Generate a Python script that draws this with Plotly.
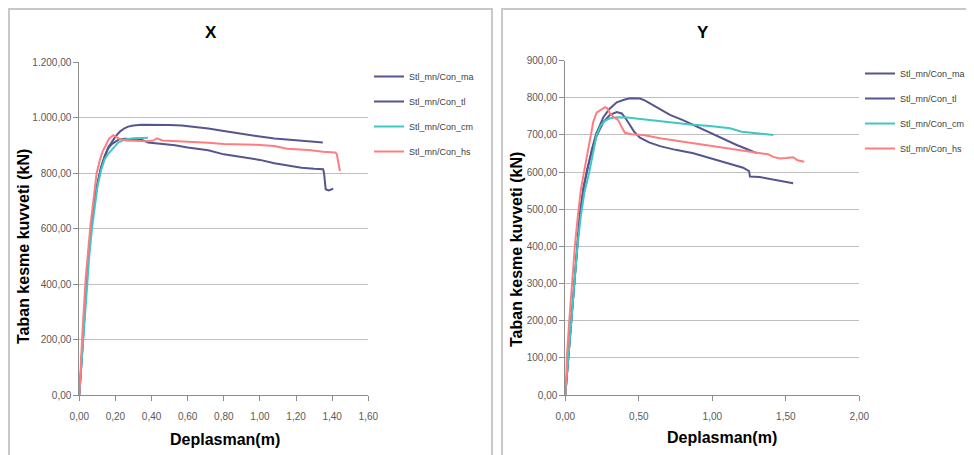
import plotly.graph_objects as go

# ---------------- data ----------------
series_names = ["Stl_mn/Con_ma", "Stl_mn/Con_tl", "Stl_mn/Con_cm", "Stl_mn/Con_hs"]

# X direction
x_ma_d = [0, 0.01, 0.02, 0.037, 0.05, 0.065, 0.08, 0.10, 0.12, 0.14, 0.16, 0.18, 0.20, 0.225, 0.25, 0.27, 0.30, 0.345, 0.40, 0.50, 0.567, 0.65, 0.714, 0.80, 0.90, 1.00, 1.08, 1.15, 1.23, 1.30, 1.348]
x_ma_f = [0, 100, 200, 400, 500, 600, 680, 760, 820, 860, 893, 912, 932, 950, 962, 968, 972, 975, 975, 974, 972, 966, 961, 952, 941, 932, 925, 921, 915, 913, 911]

x_tl_d = [0, 0.01, 0.02, 0.037, 0.05, 0.065, 0.08, 0.10, 0.12, 0.14, 0.16, 0.18, 0.20, 0.22, 0.25, 0.30, 0.345, 0.38, 0.45, 0.53, 0.60, 0.714, 0.80, 0.90, 1.00, 1.08, 1.15, 1.23, 1.30, 1.35, 1.355, 1.364, 1.38, 1.406]
x_tl_f = [0, 100, 200, 400, 500, 600, 680, 760, 820, 860, 890, 905, 915, 922, 924, 923, 921, 911, 906, 901, 893, 883, 868, 858, 848, 836, 828, 820, 816, 814, 800, 742, 738, 744]

x_cm_d = [0, 0.01, 0.02, 0.04, 0.055, 0.07, 0.085, 0.10, 0.12, 0.14, 0.16, 0.18, 0.194, 0.215, 0.253, 0.30, 0.345, 0.38]
x_cm_f = [0, 90, 190, 390, 500, 600, 680, 750, 810, 850, 870, 884, 895, 910, 922, 926, 927, 928]

x_hs_d = [0, 0.008, 0.017, 0.035, 0.05, 0.063, 0.078, 0.096, 0.115, 0.13, 0.146, 0.165, 0.188, 0.205, 0.225, 0.26, 0.30, 0.37, 0.41, 0.43, 0.46, 0.53, 0.62, 0.714, 0.80, 0.90, 1.00, 1.08, 1.15, 1.27, 1.35, 1.416, 1.425, 1.443]
x_hs_f = [0, 110, 220, 420, 540, 620, 700, 800, 850, 880, 900, 925, 937, 930, 923, 918, 917, 915, 918, 926, 918, 916, 914, 910, 905, 904, 902, 898, 888, 884, 877, 875, 870, 808]

# Y direction
y_ma_d = [0, 0.02, 0.037, 0.057, 0.077, 0.10, 0.125, 0.15, 0.18, 0.21, 0.259, 0.30, 0.35, 0.40, 0.44, 0.508, 0.54, 0.576, 0.64, 0.712, 0.80, 0.871, 0.95, 1.03, 1.10, 1.166, 1.23, 1.302]
y_ma_f = [0, 100, 200, 300, 400, 490, 560, 610, 660, 703, 748, 770, 788, 795, 799, 798, 793, 785, 770, 754, 740, 727, 712, 697, 685, 673, 663, 651]

y_tl_d = [0, 0.02, 0.037, 0.057, 0.077, 0.10, 0.125, 0.15, 0.18, 0.21, 0.259, 0.304, 0.35, 0.384, 0.41, 0.44, 0.47, 0.508, 0.57, 0.644, 0.75, 0.871, 0.95, 1.052, 1.13, 1.21, 1.25, 1.256, 1.32, 1.415, 1.48, 1.55]
y_tl_f = [0, 100, 200, 300, 400, 490, 560, 610, 655, 695, 735, 754, 762, 758, 745, 725, 708, 693, 680, 670, 660, 651, 642, 632, 622, 612, 603, 588, 587, 580, 577, 570]

y_cm_d = [0, 0.02, 0.04, 0.06, 0.08, 0.105, 0.13, 0.163, 0.19, 0.213, 0.24, 0.27, 0.304, 0.35, 0.42, 0.53, 0.62, 0.712, 0.85, 0.984, 1.05, 1.12, 1.20, 1.30, 1.415]
y_cm_f = [0, 95, 195, 295, 390, 480, 545, 600, 660, 700, 725, 738, 745, 748, 747, 742, 738, 733, 728, 724, 722, 718, 709, 705, 700]

y_hs_d = [0, 0.01, 0.027, 0.045, 0.065, 0.085, 0.105, 0.127, 0.146, 0.17, 0.19, 0.213, 0.236, 0.27, 0.285, 0.304, 0.33, 0.36, 0.385, 0.406, 0.45, 0.53, 0.644, 0.75, 0.871, 1.00, 1.10, 1.20, 1.32, 1.38, 1.415, 1.46, 1.50, 1.55, 1.58, 1.626]
y_hs_f = [0, 100, 200, 300, 400, 480, 550, 600, 640, 700, 735, 760, 767, 775, 772, 758, 748, 740, 720, 706, 702, 700, 691, 685, 677, 670, 664, 658, 652, 648, 641, 637, 638, 640, 632, 628]

x_panel = [(x_ma_d, x_ma_f), (x_tl_d, x_tl_f), (x_cm_d, x_cm_f), (x_hs_d, x_hs_f)]
y_panel = [(y_ma_d, y_ma_f), (y_tl_d, y_tl_f), (y_cm_d, y_cm_f), (y_hs_d, y_hs_f)]

colors = ["#55558F", "#55558F", "#3EC8C3", "#FF7C80"]

# page is 974x455; the html body adds an 8px margin, so the figure is offset
OFF = 8
W, H = 974 - OFF, 455 - OFF
def px(v):
    return (v - OFF) / W
def py(v):
    return (H - (v - OFF)) / H

FONT = "Liberation Sans, Arial"

fig = go.Figure()
for i, (d, f) in enumerate(x_panel):
    fig.add_trace(go.Scatter(x=d, y=f, mode="lines", name=series_names[i],
                             line=dict(color=colors[i], width=2),
                             xaxis="x", yaxis="y", legend="legend",
                             legendgroup="a%d" % i))
for i, (d, f) in enumerate(y_panel):
    fig.add_trace(go.Scatter(x=d, y=f, mode="lines", name=series_names[i],
                             line=dict(color=colors[i], width=2),
                             xaxis="x2", yaxis="y2", legend="legend2",
                             legendgroup="b%d" % i))

tickfont = dict(family=FONT, size=10, color="#595959")
common_x = dict(showgrid=False, zeroline=False, showline=True, linecolor="#8C8C8C",
                linewidth=1, ticks="outside", ticklen=5, tickcolor="#8C8C8C",
                tickformat=".2f", tickfont=tickfont, ticklabelstandoff=7, automargin=False)
common_y = dict(showgrid=True, gridcolor="#BFBFBF", gridwidth=1, zeroline=False,
                showline=True, linecolor="#8C8C8C", linewidth=1, ticks="outside",
                ticklen=5, tickcolor="#8C8C8C", tickformat=",.2f", tickfont=tickfont,
                automargin=False)

legend_common = dict(font=dict(family=FONT, size=9, color="#404040"),
                     bgcolor="rgba(0,0,0,0)", traceorder="grouped",
                     tracegroupgap=6, xanchor="left", yanchor="top")

fig.update_layout(
    width=W, height=H,
    margin=dict(l=0, r=0, t=0, b=0, autoexpand=False),
    paper_bgcolor="white", plot_bgcolor="white",
    separators=",.",
    xaxis=dict(domain=[px(79.3), px(368.3)], range=[0, 1.6], dtick=0.2, anchor="y", **common_x),
    yaxis=dict(domain=[py(395), py(62.3)], range=[0, 1200], dtick=200, anchor="x", **common_y),
    xaxis2=dict(domain=[px(565.3), px(859.3)], range=[0, 2.0], dtick=0.5, anchor="y2", **common_x),
    yaxis2=dict(domain=[py(395), py(60.7)], range=[0, 900], dtick=100, anchor="x2", **common_y),
    legend=dict(x=px(369), y=py(62), **legend_common),
    legend2=dict(x=px(860), y=py(59), **legend_common),
    showlegend=True,
)

annots = [
    dict(text="<b>X</b>", x=px(211), y=py(33), font=dict(family=FONT, size=17, color="black")),
    dict(text="<b>Y</b>", x=px(703), y=py(32), font=dict(family=FONT, size=17, color="black")),
    dict(text="<b>Taban kesme kuvveti (kN)</b>", x=px(23), y=py(247), textangle=-90,
         font=dict(family=FONT, size=16, color="black")),
    dict(text="<b>Taban kesme kuvveti (kN)</b>", x=px(517), y=py(250), textangle=-90,
         font=dict(family=FONT, size=16, color="black")),
    dict(text="<b>Deplasman(m)</b>", x=px(225), y=py(439), font=dict(family=FONT, size=16, color="black")),
    dict(text="<b>Deplasman(m)</b>", x=px(722), y=py(437), font=dict(family=FONT, size=16, color="black")),
]
for a in annots:
    fig.add_annotation(xref="paper", yref="paper", showarrow=False,
                       xanchor="center", yanchor="middle", **a)

# chart frames
fig.add_shape(type="rect", xref="paper", yref="paper",
              x0=px(9), x1=px(492), y0=-0.05, y1=py(9),
              line=dict(color="#C8C8C8", width=2), layer="below")
fig.add_shape(type="rect", xref="paper", yref="paper",
              x0=px(502), x1=1.05, y0=-0.05, y1=py(9),
              line=dict(color="#C8C8C8", width=2), layer="below")

fig.write_html("out.html")
